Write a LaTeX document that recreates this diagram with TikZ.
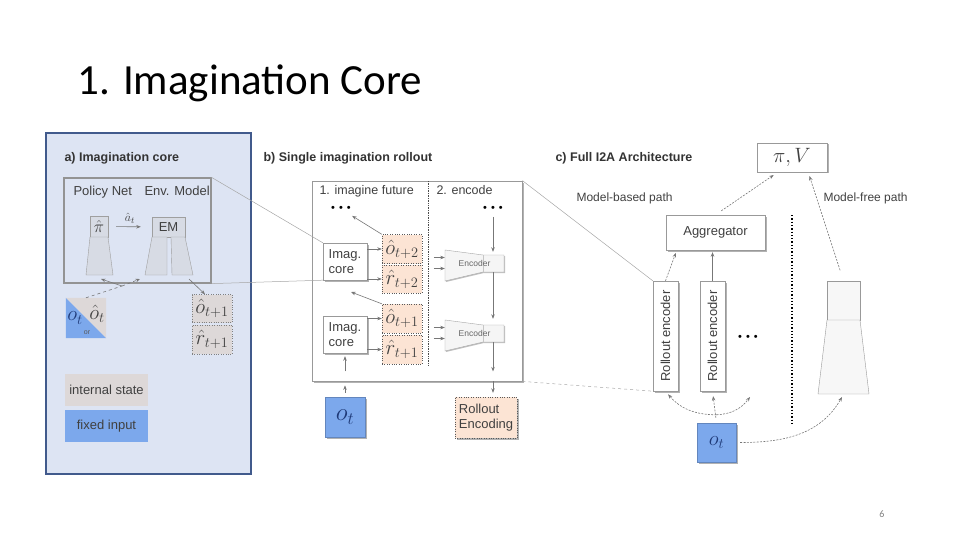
\documentclass[tikz,border=0pt]{standalone}
\usepackage{fontspec}
\setmainfont{Liberation Sans}
\newfontfamily\slidefont{Carlito}
\usetikzlibrary{arrows.meta,shadows}
\definecolor{panelbg}{HTML}{DDE4F3}
\definecolor{panelrim}{HTML}{415A8C}
\definecolor{inputblue}{HTML}{7CA8EC}
\definecolor{stategray}{HTML}{DDD8D8}
\definecolor{outorange}{HTML}{FCE4D4}
\definecolor{wirecol}{HTML}{777777}
\definecolor{ink}{HTML}{404040}
\definecolor{netgray}{HTML}{D7DBE4}
\definecolor{mathblue}{HTML}{1F3A78}

\begin{document}
\begin{tikzpicture}[x=1pt, y=1pt,
        every node/.style={text=ink, font=\fontsize{13}{15}\selectfont},
        head/.style={anchor=base west, text=black!80, font=\fontsize{12.5}{14}\selectfont\bfseries},
        plain/.style={anchor=base west},
        small/.style={font=\fontsize{12}{14}\selectfont},
        mathbig/.style={font=\fontsize{20}{22}\selectfont},
        box/.style={draw=gray!80, fill=white, inner sep=0pt, align=center},
        shade/.style={drop shadow={shadow xshift=1.5pt, shadow yshift=-1.5pt, fill=black, opacity=0.3}},
        net/.style={draw=gray!75, fill=netgray, inner sep=0pt},
        state/.style={box, fill=stategray, dotted, draw=gray},
        outcome/.style={box, fill=outorange, dotted, draw=gray!70!black},
        fixedin/.style={box, fill=inputblue, draw=inputblue!80!black, text=mathblue, font=\fontsize{23}{25}\selectfont},
        encshape/.style={draw=gray!70, fill=gray!8, drop shadow={shadow xshift=1pt, shadow yshift=-1pt, fill=black, opacity=0.25}},
        enctext/.style={inner sep=0pt, text=gray!80!black, font=\fontsize{8.5}{9}\selectfont},
        dotrow/.style={inner sep=1pt, text=black, font=\fontsize{11}{11}\selectfont},
        wire/.style={draw=wirecol, line width=0.6pt, -{Stealth[length=4.5pt, width=3.5pt]}},
        wiredot/.style={wire, dash pattern=on 2pt off 1.3pt},
        zoomline/.style={draw=gray!70, line width=0.5pt},
    ]

    \useasboundingbox (0,0) rectangle (960,-540);

    \node[anchor=base west, text=black, font=\slidefont\fontsize{43}{48}\selectfont] (slideTitle) at (74,-95) {1. Imagination Core};
    \node[text=gray, font=\slidefont\fontsize{10}{12}\selectfont] (pageNo) at (882,-514) {6};

    % a) imagination core
    \draw[panelrim, line width=2pt, fill=panelbg] (46,-133) rectangle (251,-474);
    \node[head] (titleA) at (61,-161) {a) Imagination core};
    \node[draw=gray!85, line width=1.2pt, minimum width=147, minimum height=105, inner sep=0pt] (coreA) at (137.5,-230.5) {};
    \node[plain] at (70,-196) {Policy Net};
    \node[plain] at (141,-196) {Env. Model};

    \node[net, minimum width=18, minimum height=21, font=\fontsize{16}{18}\selectfont] (piA) at (99,-226.5) {$\hat\pi$};
    \draw[net] (90,-237) -- (108,-237) -- (113,-275) -- (86,-275) -- cycle;
    \node[net, minimum width=33, minimum height=20] (emA) at (168.5,-227) {EM};
    \draw[net] (152,-237) -- (167,-237) -- (167,-275) -- (145,-275) -- cycle;
    \draw[net] (171,-237) -- (185,-237) -- (193,-275) -- (172,-275) -- cycle;
    \draw[wire, shorten <=8pt, shorten >=11pt] (piA) -- node[above=0pt, font=\fontsize{13}{14}\selectfont] {$\hat a_t$} (emA);

    \node[minimum size=40, inner sep=0pt] (otA) at (86,-318) {};
    \fill[stategray] (otA.north west) -- (otA.north east) -- (otA.south east) -- cycle;
    \fill[inputblue] (otA.north west) -- (otA.south west) -- (otA.south east) -- cycle;
    \node[font=\fontsize{21}{22}\selectfont, text=mathblue] at (75,-318) {$o_t$};
    \node[font=\fontsize{20}{22}\selectfont] at (97,-314) {$\hat o_t$};
    \node[font=\fontsize{7}{8}\selectfont, text=gray!70!black] at (87,-333) {or};

    \coordinate (split) at (122,-286);
    \coordinate (piIn) at (101,-279);
    \coordinate (emIn) at (140,-279);
    \coordinate (emOut) at (189,-279);
    \draw[wirecol, line width=0.6pt, dashed] (otA.north) -- (split);
    \draw[wire] (split) -- (piIn);
    \draw[wire, dashed] (split) -- (emIn);

    \node[state, mathbig, minimum width=40, minimum height=28] (ohatA) at (212,-308.5) {$\hat o_{t+1}$};
    \node[state, mathbig, minimum width=40, minimum height=29] (rhatA) at (212,-339.5) {$\hat r_{t+1}$};
    \draw[wire] (emOut) -- ([xshift=-7pt]ohatA.north);

    \node[fill=stategray, minimum width=83, minimum height=32, inner sep=0pt] (stateKey) at (106.5,-390) {internal state};
    \node[fill=inputblue, minimum width=83, minimum height=32, inner sep=0pt] (inputKey) at (106.5,-426) {fixed input};

    % b) single rollout
    \node[head] (titleB) at (260,-161) {b) Single imagination rollout};
    \node[box, shade, line width=0.8pt, minimum width=210, minimum height=200] (rollout) at (417,-281) {};
    \draw[gray!60!black, densely dotted, line width=0.7pt] (428,-181) -- (428,-365);
    \node[plain, font=\fontsize{12.5}{15}\selectfont] at (316,-194) {1. imagine future};
    \node[plain, font=\fontsize{12.5}{15}\selectfont] at (433,-194) {2. encode};
    \node[dotrow] (dots1) at (341,-209) {\textbullet\hspace{4pt}\textbullet\hspace{4pt}\textbullet};
    \node[dotrow] (dots2) at (493,-209) {\textbullet\hspace{4pt}\textbullet\hspace{4pt}\textbullet};

    \node[box, shade, align=left, minimum width=44, minimum height=37] (core2) at (345,-261.5) {Imag.\\core};
    \node[box, shade, align=left, minimum width=44, minimum height=37] (core1) at (345,-334.5) {Imag.\\core};
    \node[outcome, mathbig, minimum width=40, minimum height=29] (ohat2) at (402,-249) {$\hat o_{t+2}$};
    \node[outcome, mathbig, minimum width=40, minimum height=28] (rhat2) at (402,-279) {$\hat r_{t+2}$};
    \node[outcome, mathbig, minimum width=40, minimum height=29] (ohat1) at (402,-318.5) {$\hat o_{t+1}$};
    \node[outcome, mathbig, minimum width=40, minimum height=29] (rhat1) at (402,-349.5) {$\hat r_{t+1}$};

    \foreach \yy/\nm in {250/enc2, 320/enc1} {
        \draw[encshape] (445,-\yy) -- (483,-\yy-5) -- (504,-\yy-5) -- (504,-\yy-22)
            -- (483,-\yy-22) -- (445,-\yy-31) -- cycle;
        \draw[gray!45] (483,-\yy-5) -- (483,-\yy-22);
        \node[enctext, minimum width=59, minimum height=17] (\nm) at (474.5,-\yy-13.5) {Encoder};
        \draw[wire] ([xshift=-11pt, yshift=6pt]\nm.west) -- ([yshift=6pt]\nm.west);
        \draw[wire] ([xshift=-11pt, yshift=-5pt]\nm.west) -- ([yshift=-5pt]\nm.west);
    }

    \draw[wire] (core2.east |- ohat2) -- (ohat2.west);
    \draw[wire] (core2.east |- rhat2) -- (rhat2.west);
    \draw[wire] (core1.east |- ohat1) -- (ohat1.west);
    \draw[wire] (core1.east |- rhat1) -- (rhat1.west);
    \coordinate (prev1) at (351,-292);
    \draw[wire, shorten >=6pt] (ohat2.north west) -- (dots1);
    \draw[wire] (ohat1.north west) -- (prev1);

    \draw[wire, shorten <=4pt, shorten >=3pt] (dots2) -- (dots2 |- enc2.north);
    \draw[wire, shorten >=6pt] (enc2.south -| dots2) -- (enc1.north -| dots2);
    \draw[wire, shorten >=10pt] (enc1.south -| dots2) -- (rollout.south -| dots2);

    \node[outcome, shade, align=left, minimum width=62, minimum height=41] (rollEnc) at (486,-417.5) {Rollout\\Encoding};
    \draw[wire, shorten >=4pt] (rollout.south -| dots2) -- (rollEnc.north -| dots2);

    \node[fixedin, shade, minimum size=40] (otB) at (345,-417) {$o_t$};
    \draw[wire, shorten <=4pt, shorten >=4pt] (otB) -- (otB |- rollout.south);
    \draw[wire, shorten <=10pt, shorten >=3pt] (otB |- rollout.south) -- (core1.south);

    \draw[zoomline] (coreA.north east) -- (core2.north west);
    \draw[zoomline] (coreA.south east) -- (core2.south west);

    % c) full architecture
    \node[head] (titleC) at (552,-161) {c) Full I2A Architecture};
    \node[box, shade, minimum width=70, minimum height=29, font=\fontsize{22}{24}\selectfont] (piV) at (792,-157.5) {$\pi, V$};
    \node[plain, small] at (573,-201) {Model-based path};
    \node[plain, small] at (820,-201) {Model-free path};
    \node[box, shade, minimum width=99, minimum height=35] (agg) at (715.5,-232.5) {Aggregator};
    \node[box, shade, minimum width=25, minimum height=110] (re1) at (665.5,-336) {\rotatebox{90}{Rollout encoder}};
    \node[box, shade, minimum width=25, minimum height=110] (re2) at (712.5,-336) {\rotatebox{90}{Rollout encoder}};
    \node[dotrow] (dots3) at (748,-338) {\textbullet\hspace{4pt}\textbullet\hspace{4pt}\textbullet};
    \draw[black, dotted, line width=1.3pt] (792,-215) -- (792,-425);

    \node[box, fill=gray!6, minimum width=33, minimum height=39] (mfTop) at (843.5,-300.5) {};
    \draw[gray!80, fill=gray!6] (827,-320) -- (860,-320) -- (869,-394) -- (818,-394) -- cycle;
    \coordinate (mfIn) at (842,-397);
    \coordinate (moreIn) at (750,-397);

    \node[fixedin, shade, minimum size=39, font=\fontsize{21}{23}\selectfont] (otC) at (716.5,-442.5) {$o_t$};

    \draw[wiredot, shorten <=7pt, shorten >=5pt] (agg.north) -- ([xshift=21pt]piV.south west);
    \draw[wiredot, shorten <=11pt, shorten >=4pt] (mfTop.north) -- ([xshift=-19pt]piV.south east);
    \draw[wiredot, shorten >=3pt] (re1.north) -- ([xshift=11pt]agg.south west);
    \draw[wire, shorten >=2pt] (re2.north) -- (re2.north |- agg.south);
    \draw[wiredot, shorten <=5pt, shorten >=5pt] (otC.north) -- (re2.south);
    \draw[wiredot, shorten >=4pt] ([yshift=8pt]otC.north) to[bend left=25] (re1.south);
    \draw[wiredot] ([yshift=8pt]otC.north) to[bend right=25] (moreIn);
    \draw[wiredot] ([xshift=4pt]otC.east) to[out=0, in=240] (mfIn);

    \draw[zoomline] (rollout.north east) -- (re1.north west);
    \draw[zoomline, dashed] (rollout.south east) -- (re1.south west);

\end{tikzpicture}
\end{document}
